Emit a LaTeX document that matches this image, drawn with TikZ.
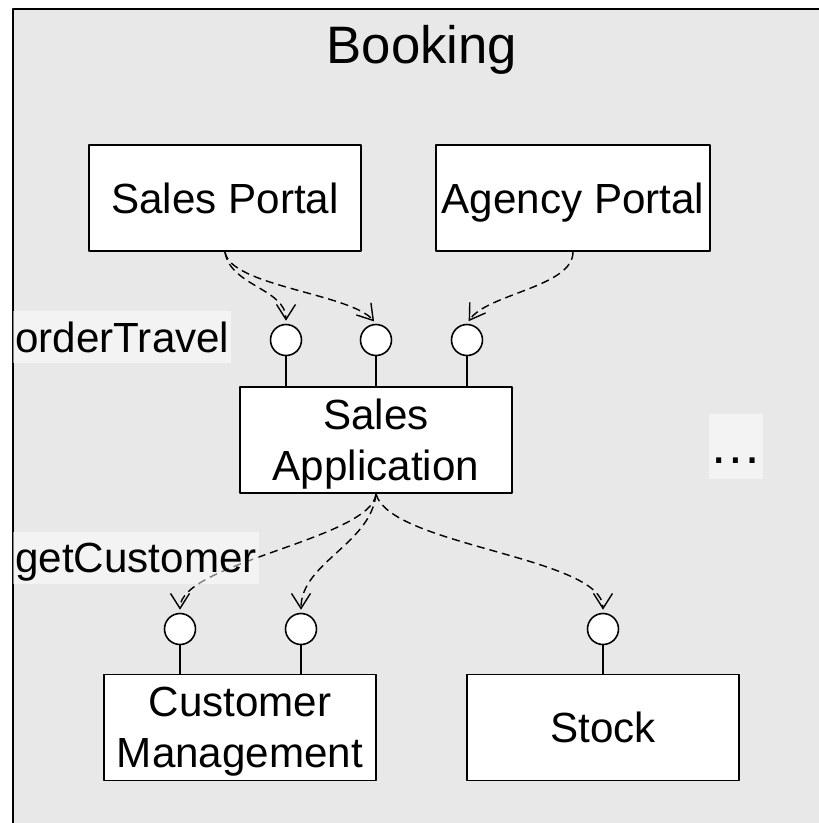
\documentclass[tikz,border=0pt]{standalone}
\usepackage{fontspec}
\setmainfont{Liberation Sans}
\usetikzlibrary{arrows.meta}
\newcommand{\boxfont}{\fontsize{24}{29}\selectfont}
\newcommand{\titlefont}{\fontsize{30}{36}\selectfont}

\begin{document}
\begin{tikzpicture}[x=0.02cm, y=-0.02cm, line join=round,
    comp/.style={draw, line width=1.1pt, fill=white, minimum width=5.44cm,
      minimum height=2.12cm, align=center, font=\boxfont, text depth=0pt},
    lolly/.style={circle, draw, line width=0.9pt, fill=white,
      minimum size=0.62cm, inner sep=0pt},
    lbl/.style={fill=white, fill opacity=0.5, text opacity=1, font=\boxfont,
      inner xsep=0.04cm, inner ysep=0pt, minimum height=1.04cm, text depth=0pt}]
  \clip (0,0) rectangle (819,823);
  \draw[line width=1.1pt, fill=black!9] (13,9) rectangle (840,850);
  \node[font=\titlefont, anchor=base] (title) at (422,63) {Booking};

  \node[comp] (sp)  at (225,198)   {Sales Portal};
  \node[comp] (ap)  at (573,198)   {Agency Portal};
  \node[comp] (app) at (376,440)   {Sales\\Application};
  \node[comp] (cm)  at (240,727.5) {Customer\\Management};
  \node[comp] (st)  at (603,727.5) {Stock};

  % provided interfaces
  \node[lolly] (ifA) at (286,340) {};
  \node[lolly] (ifB) at (376,340) {};
  \node[lolly] (ifC) at (467,340) {};
  \node[lolly] (ifD) at (180,629) {};
  \node[lolly] (ifE) at (301,629) {};
  \node[lolly] (ifF) at (603,629) {};

  \foreach \i in {ifA,ifB,ifC}
    \draw[line width=0.9pt] (\i.south) -- (\i.south |- app.north);
  \foreach \i in {ifD,ifE}
    \draw[line width=0.9pt] (\i.south) -- (\i.south |- cm.north);
  \draw[line width=0.9pt] (ifF.south) -- (ifF.south |- st.north);

  \tikzset{dep/.style={-{Straight Barb[length=0.3cm,width=0.38cm]},
      dash pattern=on 0.16cm off 0.1cm, line width=0.8pt, shorten >=0.06cm}}

  \draw[dep] (sp.south) .. controls +(5,34) and +(0,-35) .. (ifA.north);
  \draw[dep] (sp.south) .. controls +(5,34) and +(-25,-30) .. (ifB.north);
  \draw[dep] (ap.south) .. controls +(0,35) and +(20,-30) .. (ifC.north);
  \draw[dep] (app.south) .. controls +(-5,45) and +(0,-50) .. (ifD.north);
  \draw[dep] (app.south) .. controls +(-5,50) and +(0,-50) .. (ifE.north);
  \draw[dep] (app.south) .. controls +(14,52) and +(0,-56) .. (ifF.north);

  \node[lbl, anchor=west] (ot) at (13,337)   {orderTravel};
  \node[lbl, anchor=west] (gc) at (13,557.5) {getCustomer};
  \node[lbl, anchor=north west, font=\titlefont, inner sep=0pt,
    minimum width=1.08cm, minimum height=0pt,
    text height=0.98cm, text depth=0.32cm] (more) at (709,414) {…};
\end{tikzpicture}
\end{document}
